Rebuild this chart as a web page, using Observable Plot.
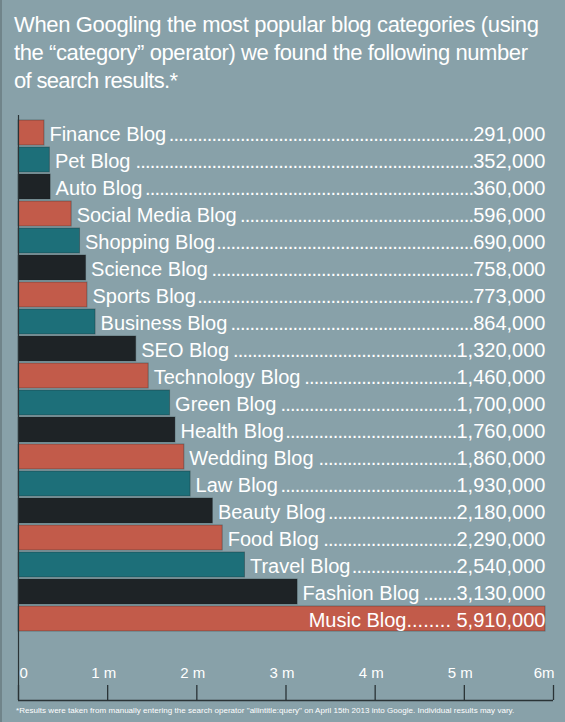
<!DOCTYPE html>
<html><head><meta charset="utf-8">
<script src="https://cdn.jsdelivr.net/npm/d3@7"></script>
<script src="https://cdn.jsdelivr.net/npm/@observablehq/plot@0.6"></script>
<style>
html,body{margin:0;padding:0;background:#88A1A9;}
body{width:565px;height:722px;position:relative;overflow:hidden;font-family:"Liberation Sans",Arial,Helvetica,sans-serif;}
#edge{position:absolute;left:0;top:0;width:2px;height:722px;background:#70848a;}
#title{position:absolute;left:14px;top:11px;color:#fff;font-size:22px;line-height:28px;}
#title span{display:block;white-space:nowrap;}
#bars{position:absolute;left:0;top:100px;}
#axis{position:absolute;left:0;top:640px;}
#note{position:absolute;left:16px;top:706px;color:#fff;font-size:8px;line-height:10px;white-space:nowrap;}
</style>
</head><body>
<div id="edge"></div>
<div id="title"></div>
<div id="bars"></div>
<div id="axis"></div>
<div id="note"></div>
<script>
const titleLines = [
  "When Googling the most popular blog categories (using",
  "the \u201Ccategory\u201D operator) we found the following number",
  "of search results.*"
];
const note = "*Results were taken from manually entering the search operator \"allintitle:query\" on April 15th 2013 into Google.  Individual results may vary.";
const categories = ["Finance Blog","Pet Blog","Auto Blog","Social Media Blog","Shopping Blog","Science Blog","Sports Blog","Business Blog","SEO Blog","Technology Blog","Green Blog","Health Blog","Wedding Blog","Law Blog","Beauty Blog","Food Blog","Travel Blog","Fashion Blog","Music Blog"];
const values = [291000,352000,360000,596000,690000,758000,773000,864000,1320000,1460000,1700000,1760000,1860000,1930000,2180000,2290000,2540000,3130000,5910000];
const palette = ["#C25B4A","#1D6F79","#1E2326"];
const tickValues = [0,1e6,2e6,3e6,4e6,5e6,6e6];
const tickLabels = ["0","1 m","2 m","3 m","4 m","5 m","6m"];

const FONT = "'Liberation Sans', Arial, Helvetica, sans-serif";
const canvas = document.createElement("canvas");
const ctx = canvas.getContext("2d");
function textW(s, size) { ctx.font = `${size}px ${FONT}`; return ctx.measureText(s).width; }

// Title: fit each line to reference width
const titleTargets = [525, 514, 164];
const titleEl = document.getElementById("title");
titleLines.forEach((line, i) => {
  const span = document.createElement("span");
  span.textContent = line;
  const w = textW(line, 22);
  span.style.letterSpacing = ((titleTargets[i] - w) / (line.length - 1)).toFixed(3) + "px";
  titleEl.appendChild(span);
});
const noteEl = document.getElementById("note");
noteEl.textContent = note;
noteEl.style.letterSpacing = ((501 - textW(note, 8)) / (note.length - 1)).toFixed(3) + "px";

const xDomain = [0, 6e6];
const xRange = [18, 553];
const xs = Plot.scale({x: {domain: xDomain, range: xRange}});
const maxV = d3.max(values);
const fmt = d3.format(",");
const FS = 20;
const DOT_LS = -0.8;

const rows = categories.map((name, i) => {
  const v = values[i];
  const label = fmt(v);
  const nameEnd = xs.apply(v) + 5 + textW(name, FS);
  const inside = nameEnd + textW(label, FS) > xs.apply(maxV);
  return {name, value: v, end: maxV, color: palette[i % 3], inside, label,
          tail: inside ? name + "........ " + label : label};
});

const ticks = tickValues.map((v, i) => ({v, label: tickLabels[i]}));
const axisPlot = Plot.plot({
  width: 565, height: 62,
  marginLeft: 18, marginRight: 12, marginTop: 0, marginBottom: 2,
  style: {background: "transparent", fontFamily: FONT, overflow: "visible"},
  x: {domain: xDomain, range: xRange, axis: null},
  y: {domain: [0, 1], range: [60, 45], axis: null},
  marks: [
    Plot.ruleY([0], {stroke: "#2a3336", strokeWidth: 1.5}),
    Plot.ruleX([0], {stroke: "#2a3336", strokeWidth: 1.2}),
    Plot.ruleX(ticks, {x: "v", y1: 0, y2: 1, stroke: "#2a3336", strokeWidth: 1.3}),
    Plot.text(ticks.slice(0, 1), {x: "v", y: 1, text: "label", textAnchor: "start", lineAnchor: "bottom", dx: 1, dy: -8, fill: "white", fontSize: 15}),
    Plot.text(ticks.slice(1, -1), {x: "v", y: 1, text: "label", textAnchor: "middle", lineAnchor: "bottom", dx: -4, dy: -8, fill: "white", fontSize: 15}),
    Plot.text(ticks.slice(-1), {x: "v", y: 1, text: "label", textAnchor: "end", lineAnchor: "bottom", dx: 1, dy: -8, fill: "white", fontSize: 15})
  ]
});
document.getElementById("axis").appendChild(axisPlot);

const barsPlot = Plot.plot({
  width: 565, height: 540,
  marginLeft: 18, marginRight: 12, marginTop: 15, marginBottom: 0,
  style: {background: "transparent", fontFamily: FONT, overflow: "visible"},
  x: {domain: xDomain, range: xRange, axis: null},
  y: {domain: categories, range: [14.5, 537], padding: 0.08, axis: null},
  color: {type: "identity"},
  marks: [
    Plot.barX(rows, {x: "value", y: "name", fill: "color", stroke: "#1a2326", strokeOpacity: 0.35, strokeWidth: 1}),
    Plot.ruleX([0], {stroke: "#2a3336", strokeWidth: 1.2}),
    Plot.text(rows.filter(d => !d.inside), {x: "value", y: "name", text: "name", textAnchor: "start", dx: 5, dy: 1.5, fill: "white", fontSize: FS}),
    Plot.text(rows, {x: "end", y: "name", text: "tail", textAnchor: "end", dy: 1.5, fill: "white", fontSize: FS})
  ]
});
document.getElementById("bars").appendChild(barsPlot);

// dot leaders: fill the room between each name and its value with as many dots as fit
const textGroups = d3.select(barsPlot).selectAll('g[aria-label="text"]').nodes();
if (textGroups.length >= 2) {
  const nameNodes = d3.select(textGroups[0]).selectAll("text").nodes();
  const tailNodes = d3.select(textGroups[1]).selectAll("text").nodes();
  let k = 0;
  rows.forEach((r, j) => {
    const node = tailNodes[j];
    if (!node) return;
    const t = d3.select(node);
    if (r.inside) return; // label inside the bar keeps its plain text
    const nn = nameNodes[k++];
    if (!nn) return;
    const nameRight = nn.getBoundingClientRect().right;
    t.text(null);
    const dots = t.append("tspan").style("letter-spacing", DOT_LS + "px");
    t.append("tspan").text(r.label);
    let n = 120;
    dots.text(".".repeat(n));
    while (n > 0 && node.getBoundingClientRect().left < nameRight + 0.5) { n--; dots.text(".".repeat(n)); }
  });
}
</script>
</body></html>
